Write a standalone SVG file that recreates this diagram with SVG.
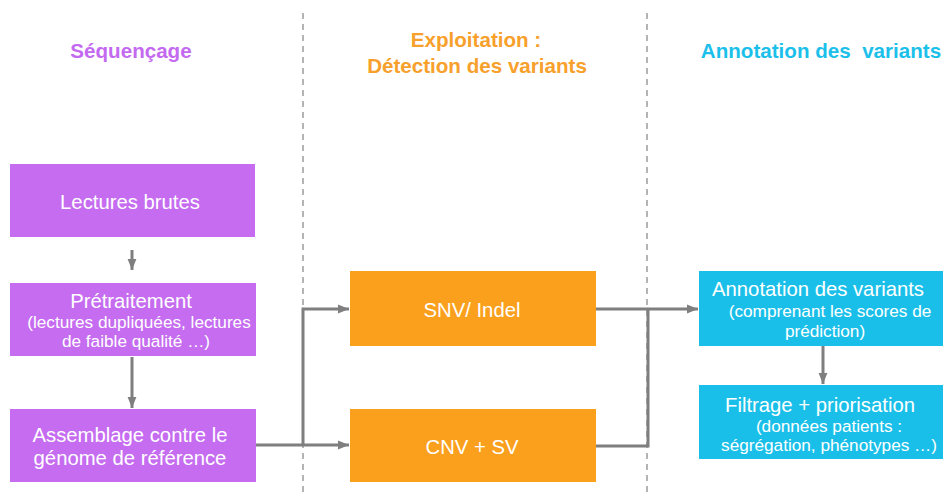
<svg xmlns="http://www.w3.org/2000/svg" width="943" height="493" viewBox="0 0 943 493">
<defs>
<style>
.t{font-family:"Liberation Sans",Arial,sans-serif;fill:#fff;text-anchor:middle}
.m{font-size:20.3px}
.s{font-size:17.2px}
.h{font-family:"Liberation Sans",Arial,sans-serif;font-weight:bold;font-size:20.6px;text-anchor:middle}
.c{fill:none;stroke:#7f7f7f;stroke-width:3}
.d{stroke:#8c8c8c;stroke-width:1.3;stroke-dasharray:6 5;fill:none}
.p{fill:#c56cf0}
.o{fill:#fba01d}
.b{fill:#1abfe9}
</style>
<marker id="a" viewBox="0 0 10 10" refX="10" refY="5" markerWidth="11" markerHeight="11" markerUnits="userSpaceOnUse" orient="auto">
<path d="M0,1 L10,5 L0,9 Z" fill="#7f7f7f"/>
</marker>
</defs>
<rect width="943" height="493" fill="#fff"/>
<g id="separators">
<line class="d" x1="303" y1="13" x2="303" y2="493"/>
<line class="d" x1="647" y1="13" x2="647" y2="493"/>
</g>
<g id="titles">
<text class="h" x="131" y="58" fill="#c46af0">Séquençage</text>
<text class="h" x="476" y="47" fill="#f7a02b">Exploitation :</text>
<text class="h" x="477" y="73" fill="#f7a02b">Détection des variants</text>
<text class="h" x="821" y="58" fill="#1bc0ea" xml:space="preserve">Annotation des  variants</text>
</g>
<g id="connectors">
<line class="c" x1="132" y1="250" x2="132" y2="270" marker-end="url(#a)"/>
<line class="c" x1="132" y1="357" x2="132" y2="408" marker-end="url(#a)"/>
<polyline class="c" points="255,445 303,445"/>
<polyline class="c" points="303,445 303,309 349,309" marker-end="url(#a)"/>
<polyline class="c" points="303,445 349,445" marker-end="url(#a)"/>
<polyline class="c" points="596,309 698,309" marker-end="url(#a)"/>
<polyline class="c" points="596,446 648,446 648,309"/>
<line class="c" x1="823" y1="346" x2="823" y2="384" marker-end="url(#a)"/>
</g>
<g id="lectures-brutes">
<rect class="p" x="10" y="164" width="245" height="73"/>
<text class="t m" x="130" y="209">Lectures brutes</text>
</g>
<g id="pretraitement">
<rect class="p" x="10" y="283" width="246" height="73"/>
<text class="t m" x="131" y="308">Prétraitement</text>
<text class="t s" x="139" y="328">(lectures dupliquées, lectures</text>
<text class="t s" x="136" y="347">de faible qualité …)</text>
</g>
<g id="assemblage">
<rect class="p" x="10" y="409" width="246" height="73"/>
<text class="t m" x="130" y="442">Assemblage contre le</text>
<text class="t m" x="130" y="465">génome de référence</text>
</g>
<g id="snv-indel">
<rect class="o" x="350" y="271" width="246" height="75"/>
<text class="t m" x="472" y="317">SNV/ Indel</text>
</g>
<g id="cnv-sv">
<rect class="o" x="350" y="409" width="246" height="73"/>
<text class="t m" x="472" y="454">CNV + SV</text>
</g>
<g id="annotation">
<rect class="b" x="699" y="271" width="244" height="75"/>
<text class="t m" x="818" y="296">Annotation des variants</text>
<text class="t s" x="830" y="317">(comprenant les scores de</text>
<text class="t s" x="825" y="337">prédiction)</text>
</g>
<g id="filtrage">
<rect class="b" x="699" y="385" width="244" height="74"/>
<text class="t m" x="820" y="412">Filtrage + priorisation</text>
<text class="t s" x="829" y="432">(données patients :</text>
<text class="t s" x="829" y="451">ségrégation, phénotypes …)</text>
</g>
</svg>
